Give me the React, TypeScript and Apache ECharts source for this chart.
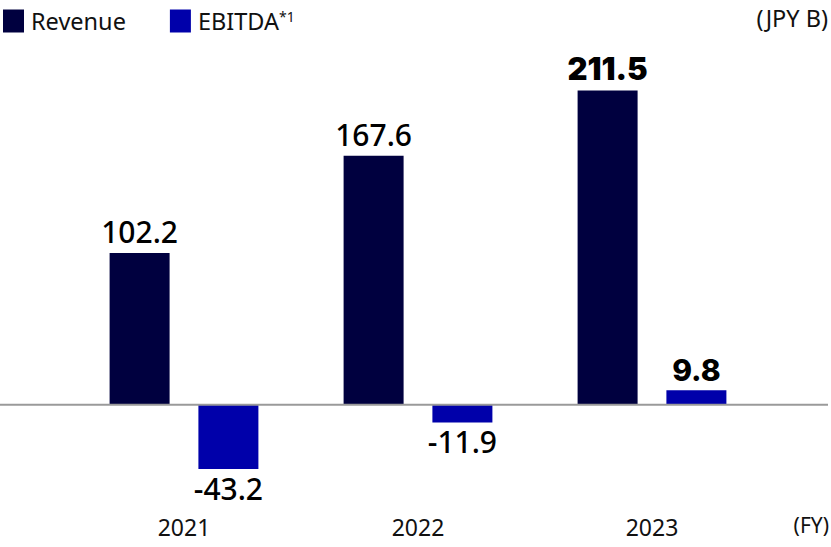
import { useEffect, useRef } from "react";
import * as echarts from "echarts";

const years = ["2021", "2022", "2023"];
const revenue = [102.2, 167.6, 211.5];
const ebitda = [-43.2, -11.9, 9.8];

const NAVY = "#00003f";
const BLUE = "#0000aa";

export default function App() {
  const ref = useRef<HTMLDivElement>(null);

  useEffect(() => {
    if (!ref.current) return;
    const chart = echarts.init(ref.current, null, { renderer: "svg" });

    chart.setOption({
      animation: false,
      textStyle: { fontFamily: "Noto Sans" },
      legend: {
        left: 3,
        top: 9,
        padding: 0,
        itemWidth: 21,
        itemHeight: 23,
        itemGap: 44,
        icon: "rect",
        selectedMode: false,
        formatter: (name: string) =>
          name === "EBITDA" ? "{a|EBITDA}{s|*1}" : "{a|" + name + "}",
        textStyle: {
          rich: {
            a: { fontSize: 23.5, color: "#111", fontFamily: "Noto Sans", padding: [0, 0, 0, 2] },
            s: { fontSize: 14, color: "#111", fontFamily: "Noto Sans", verticalAlign: "top", padding: [0, 0, 10, 0] },
          },
        },
        data: ["Revenue", "EBITDA"],
      },
      grid: { left: 67, right: 62, top: 63, bottom: 53 },
      xAxis: {
        type: "category",
        data: years,
        axisLine: { show: false, onZero: false },
        axisTick: { show: false },
        axisLabel: { fontSize: 23, color: "#111", margin: 21, fontFamily: "Noto Sans" },
      },
      yAxis: {
        type: "value",
        min: -60,
        max: 230,
        show: false,
        splitLine: { show: false },
      },
      series: [
        {
          name: "Revenue",
          type: "bar",
          barWidth: 60,
          barGap: "48%",
          itemStyle: { color: NAVY },
          label: {
            show: true,
            position: "top",
            distance: 6,
            fontSize: 30,
            fontWeight: 500,
            color: "#000",
            fontFamily: "Noto Sans",
          },
          data: revenue.map((v, i) =>
            i === 2
              ? { value: v, label: { fontSize: 31, fontWeight: 900, fontFamily: "Inter", distance: 6 } }
              : v
          ),
        },
        {
          name: "EBITDA",
          type: "bar",
          barWidth: 60,
          itemStyle: { color: BLUE },
          label: {
            show: true,
            position: "top",
            distance: 5,
            fontSize: 30,
            fontWeight: 500,
            color: "#000",
            fontFamily: "Noto Sans",
          },
          data: ebitda.map((v) =>
            v < 0
              ? { value: v, label: { position: "bottom", distance: 4 } }
              : { value: v, label: { fontSize: 30, fontWeight: 800, fontFamily: "Inter" } }
          ),
        },
      ],
      graphic: [
        {
          type: "text",
          right: 3,
          top: 6,
          style: { text: "(JPY B)", fontSize: 23.5, fill: "#111", fontFamily: "Noto Sans" },
        },
        {
          type: "text",
          right: 2,
          top: 514,
          style: { text: "(FY)", fontSize: 21, fill: "#111", fontFamily: "Noto Sans" },
        },
      ],
    });

    const y0 = chart.convertToPixel({ yAxisIndex: 0 }, 0) as number;
    chart.setOption({
      graphic: [
        {},
        {},
        {
          type: "line",
          z: 10,
          shape: { x1: 0, y1: y0, x2: 828, y2: y0 },
          style: { stroke: "#9a9a9a", lineWidth: 2 },
        },
      ],
    });

    return () => chart.dispose();
  }, []);

  return <div ref={ref} style={{ width: 831, height: 547, position: "absolute", left: 0, top: 0 }} />;
}
